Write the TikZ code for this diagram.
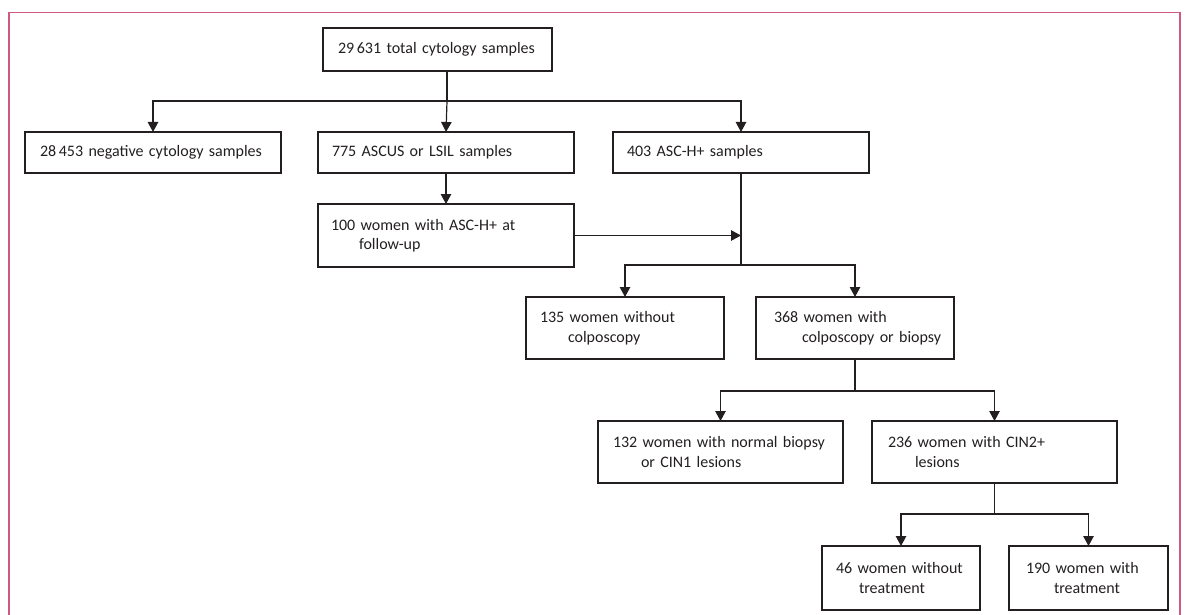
\documentclass[tikz,border=0pt]{standalone}
\usepackage{fontspec}
\setmainfont{Carlito}
\usetikzlibrary{arrows.meta}
\definecolor{linecol}{RGB}{35,31,32}
\definecolor{framecol}{RGB}{206,90,126}
\newcommand{\flowbox}[7]{%
  \pgfmathsetmacro{\fbWd}{#4-#2}%
  \pgfmathsetmacro{\fbHt}{#5-#3}%
  \pgfmathsetmacro{\fbTw}{#4-#2-2*#6}%
  \node[box, minimum width=\fbWd pt, minimum height=\fbHt pt, text width=\fbTw pt, inner xsep=#6pt] (#1) at (#2,#3) {#7};%
}
\newcommand{\lnA}[1]{\mbox{#1}}
\newcommand{\lnB}[2]{\\\hspace*{#1pt}\mbox{#2}}
\begin{document}
\begin{tikzpicture}[x=1pt,y=-1pt,
  box/.style={draw=linecol, line width=1.2pt, inner ysep=0pt, outer sep=0pt, align=left, anchor=north west,
    font=\fontsize{16}{19.5}\selectfont, text=linecol},
  ln/.style={draw=linecol, line width=1.2pt},
  arr/.style={ln, -{Triangle[width=10.5pt,length=10pt]}},
  frame/.style={draw=framecol, line width=1.2pt}]
\useasboundingbox (0,0) rectangle (1186,615);
\draw[frame] (9,615) -- (9,12.7) -- (1180,12.7) -- (1180,615);

\flowbox{top}{323}{28}{552}{71}{15}{\lnA{29\,631 total cytology samples}}
\flowbox{neg}{25}{132}{281}{173}{15}{\lnA{28\,453 negative cytology samples}}
\flowbox{ascus}{318}{132}{574}{173}{14}{\lnA{775 ASCUS or LSIL samples}}
\flowbox{asch}{613}{132}{869}{173}{14}{\lnA{403 ASC-H+ samples}}
\flowbox{fu}{318}{204}{574}{267}{13}{\lnA{100 women with ASC-H+ at}\lnB{28}{follow-up}}
\flowbox{nocol}{526}{297}{724}{359}{14}{\lnA{135 women without}\lnB{28}{colposcopy}}
\flowbox{col}{756}{297}{954}{359}{18}{\lnA{368 women with}\lnB{28}{colposcopy or biopsy}}
\flowbox{norm}{598}{421}{843}{483}{15}{\lnA{132 women with normal biopsy}\lnB{28}{or CIN1 lesions}}
\flowbox{cin}{872}{421}{1117}{483}{16}{\lnA{236 women with CIN2+}\lnB{27}{lesions}}
\flowbox{notr}{822}{546}{980}{610}{14}{\lnA{46 women without}\lnB{23}{treatment}}
\flowbox{tr}{1009}{546}{1168}{610}{17}{\lnA{190 women with}\lnB{28}{treatment}}

\coordinate (h1) at (447,101);
\draw[ln] (top.south -| h1) -- (h1);
\draw[arr] (h1) -| (neg.north);
\draw[arr] (h1) -- (ascus.north);
\draw[arr] (h1) -| (asch.north);
\draw[arr] (ascus.south) -- (fu.north);

\coordinate (h2) at (741,265);
\draw[ln] (asch.south) -- (h2);
\draw[arr] (fu.east) -- (fu.east -| h2);
\draw[arr] (h2) -| (nocol.north);
\draw[arr] (h2) -| (col.north);

\coordinate (h3) at (855,391);
\draw[ln] (col.south) -- (h3);
\draw[arr] (h3) -| (norm.north);
\draw[arr] (h3) -| (cin.north);

\coordinate (h4) at (994.5,514);
\draw[ln] (cin.south) -- (h4);
\draw[arr] (h4) -| (notr.north);
\draw[arr] (h4) -| (tr.north);
\end{tikzpicture}
\end{document}
